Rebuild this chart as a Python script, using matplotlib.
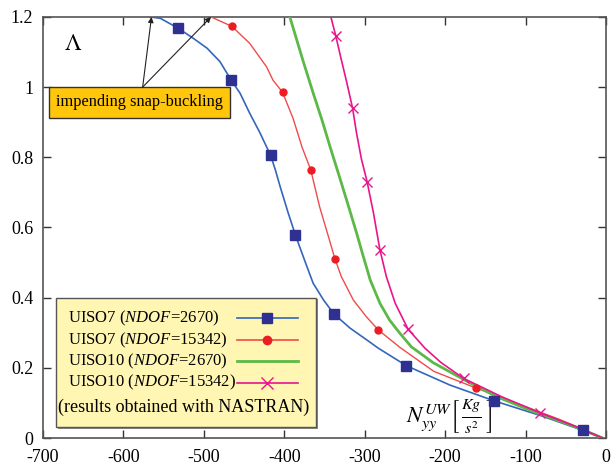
import numpy as np
import matplotlib
matplotlib.use("Agg")
import matplotlib.pyplot as plt
from matplotlib.patches import Rectangle
from matplotlib.lines import Line2D

plt.rcParams['font.family'] = ['Liberation Serif', 'DejaVu Serif']
plt.rcParams['mathtext.fontset'] = 'stix'
# used by the legend texts (math_fontfamily='custom')
plt.rcParams['mathtext.rm'] = 'Liberation Serif'
plt.rcParams['mathtext.it'] = 'Liberation Serif:italic'
plt.rcParams['mathtext.bf'] = 'Liberation Serif:bold'
plt.rcParams['axes.unicode_minus'] = False

# UISO7 (NDOF=2670)
blue_x = [-567, -554, -532, -513, -496, -480, -466, -455, -443, -430, -422, -417, -411,
          -405, -395, -386, -380, -372, -364, -351, -338, -318, -297, -283, -248, -194,
          -139, -80, -29, -4]
blue_y = [1.2, 1.196, 1.168, 1.139, 1.111, 1.073, 1.02, 0.983, 0.926, 0.869, 0.83, 0.806,
          0.764, 0.716, 0.641, 0.578, 0.54, 0.49, 0.441, 0.393, 0.353, 0.313, 0.279,
          0.256, 0.206, 0.151, 0.106, 0.063, 0.022, 0.0]
blue_mx = [-532, -466, -417, -386, -338, -248, -139, -29]
blue_my = [1.168, 1.02, 0.806, 0.578, 0.353, 0.206, 0.106, 0.022]

# UISO7 (NDOF=15342)
red_x = [-491, -465, -443, -422, -414, -402, -389, -378, -367, -356, -345, -337, -329,
         -314, -298, -283, -256, -214, -161, -110, -60, -25, -4]
red_y = [1.2, 1.173, 1.125, 1.058, 1.02, 0.985, 0.911, 0.83, 0.764, 0.659, 0.574, 0.511,
         0.46, 0.393, 0.346, 0.308, 0.258, 0.19, 0.142, 0.098, 0.055, 0.022, 0.0]
red_mx = [-465, -402, -367, -337, -283, -161]
red_my = [1.173, 0.985, 0.764, 0.511, 0.308, 0.142]

# UISO10 (NDOF=2670)
green_x = [-393, -377, -364, -353, -343, -331, -320, -310, -302, -293, -281, -269, -256,
           -242, -215, -173, -136, -90, -45, -4]
green_y = [1.2, 1.078, 0.983, 0.906, 0.83, 0.742, 0.66, 0.584, 0.52, 0.45, 0.384, 0.336,
           0.298, 0.26, 0.215, 0.162, 0.118, 0.075, 0.038, 0.0]

# UISO10 (NDOF=15342)
mag_x = [-342, -336, -329, -322, -315, -310, -304, -297, -289, -281, -273, -262, -246,
         -225, -205, -177, -130, -82, -40, -4]
mag_y = [1.2, 1.147, 1.078, 1.011, 0.94, 0.868, 0.795, 0.731, 0.641, 0.536, 0.46, 0.384,
         0.31, 0.256, 0.215, 0.17, 0.118, 0.072, 0.035, 0.0]
mag_mx = [-336, -315, -297, -281, -246, -177, -82]
mag_my = [1.147, 0.94, 0.731, 0.536, 0.31, 0.17, 0.072]

x_ticks = [-700, -600, -500, -400, -300, -200, -100, 0]
y_ticks = [0, 0.2, 0.4, 0.6, 0.8, 1.0, 1.2]
y_labels = ['0', '0.2', '0.4', '0.6', '0.8', '1', '1.2']

legend_labels = [r'UISO7 ($NDOF$=2670)', r'UISO7 ($NDOF$=15342)',
                 r'UISO10 ($NDOF$=2670)', r'UISO10 ($NDOF$=15342)']
note = '(results obtained with NASTRAN)'

BLUE_LINE = '#3466bb'
NAVY = '#2e3192'
RED_LINE = '#f04b4b'
RED = '#ed1c24'
GREEN = '#5cb947'
MAGENTA = '#e8158c'

fig = plt.figure(figsize=(6.13, 4.70), dpi=100)
ax = fig.add_axes([0.070, 0.068, 0.9185, 0.896])

ax.plot(blue_x, blue_y, color=BLUE_LINE, lw=1.2, zorder=3)
ax.plot(blue_mx, blue_my, ls='none', marker='s', ms=6.5, color=NAVY, zorder=4)
ax.plot(red_x, red_y, color=RED_LINE, lw=1.0, zorder=3)
ax.plot(red_mx, red_my, ls='none', marker='o', ms=5, color=RED, zorder=4)
ax.plot(green_x, green_y, color=GREEN, lw=2.0, zorder=3)
ax.plot(mag_x, mag_y, color=MAGENTA, lw=1.2, zorder=3)
ax.plot(mag_mx, mag_my, ls='none', marker='x', ms=7, mew=1.0, color=MAGENTA, zorder=4)

ax.set_xlim(-700, 0)
ax.set_ylim(0, 1.2)
ax.set_xticks(x_ticks)
ax.set_yticks(y_ticks)
ax.set_yticklabels(y_labels)
ax.tick_params(direction='in', top=True, right=True, length=6, width=1,
               labelsize=13, color='#333333')
ax.tick_params(axis='x', pad=8)
ax.tick_params(axis='y', pad=7)
for s in ax.spines.values():
    s.set_color('#555555')
    s.set_linewidth(1.2)

# Lambda label and axis label inside the plot
ax.text(-674, 1.12, r'$\Lambda$', fontsize=17, ha='left', va='center')
ax.text(-195, 0.06, r'$N_{yy}^{UW}\left[\,\frac{Kg}{s^2}\,\right]$', fontsize=16.5,
        ha='center', va='center')

# snap-buckling annotation
ax.text(-580, 0.957, 'impending snap-buckling', fontsize=11.8, ha='center', va='center',
        bbox=dict(boxstyle='square,pad=0.45', fc='#ffc60b', ec='#333333', lw=1.0), zorder=5)
for tip in [(-565, 1.2), (-491, 1.2)]:
    ax.annotate('', xy=tip, xytext=(-576, 1.0),
                arrowprops=dict(arrowstyle='-|>', color='#222222', lw=0.8,
                                mutation_scale=8, shrinkA=0, shrinkB=0), zorder=5)

# legend box, drawn by hand
tr = ax.transAxes
ax.add_patch(Rectangle((0.027, 0.022), 0.462, 0.307, transform=tr, fc='#888888',
                       ec='none', zorder=5))
ax.add_patch(Rectangle((0.023, 0.026), 0.462, 0.307, transform=tr, fc='#fff6b4',
                       ec='#555555', lw=1.0, zorder=6))
row_y = [0.284, 0.233, 0.183, 0.131, 0.074]
styles = [(BLUE_LINE, NAVY, 's', 7, 1.2), (RED_LINE, RED, 'o', 6, 1.2),
          (GREEN, GREEN, None, 0, 2.0), (MAGENTA, MAGENTA, 'x', 8, 1.2)]
for lab, yy, (lc, mc, mk, ms, lw) in zip(legend_labels, row_y, styles):
    ax.text(0.044, yy, lab, transform=tr, fontsize=12, ha='left', va='center', zorder=7,
            math_fontfamily='custom')
    ax.add_line(Line2D([0.345, 0.453], [yy, yy], transform=tr, color=lc, lw=lw, zorder=7))
    if mk:
        ax.add_line(Line2D([0.398], [yy], transform=tr, ls='none', marker=mk, ms=ms,
                           color=mc, mew=1.0, zorder=8))
ax.text(0.026, row_y[4], note, transform=tr, fontsize=13, ha='left', va='center', zorder=7)

fig.savefig('out.png', dpi=100)
